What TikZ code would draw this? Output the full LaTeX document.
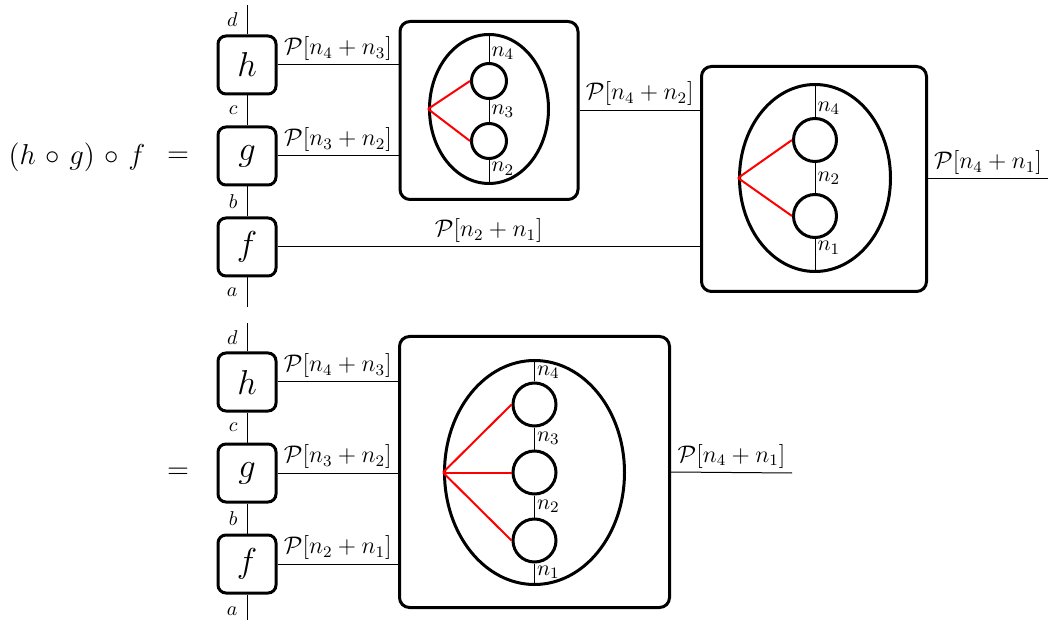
\documentclass[tikz,border=0pt]{standalone}
\usepackage{amsmath}
\usepackage{amssymb}
\usepackage{tikz}
\usetikzlibrary{shapes.geometric, positioning, calc}

\begin{document}
\begin{tikzpicture}[x=0.5pt, y=-0.5pt,
    morph/.style={rectangle, rounded corners=4pt, draw=black, line width=1.5pt, minimum size=29pt, font=\LARGE},
    outer/.style={rectangle, rounded corners=5pt, draw=black, line width=1.5pt},
    blob/.style={ellipse, draw=black, line width=1.5pt, inner sep=0pt},
    ball/.style={circle, draw=black, line width=1.5pt, inner sep=0pt},
    wire/.style={draw=black, line width=0.5pt},
    tie/.style={draw=red, line width=1pt},
    plab/.style={above, font=\large, inner sep=2pt},
    olab/.style={left, font=\normalsize, inner sep=4.5pt},
    nlab/.style={font=\fontsize{11}{13}\selectfont, inner sep=1pt}
]
\useasboundingbox (0,0) rectangle (1050,620);

% Top equation
\node[font=\Large] (lhs) at (77,157) {$\medmuskip=6mu (h\circ g)\circ f$};
\node[font=\Large] (eq1) at (178,157) {$=$};

% Top - morphisms
\node[morph] (h1) at (247,65) {$h$};
\node[morph, below=15pt of h1] (g1) {$g$};
\node[morph, below=15pt of g1] (f1) {$f$};
\coordinate (top1) at (247,5);
\coordinate (bot1) at (247,307);

% Top - first composite
\node[outer, minimum size=89pt] (box1) at (489,110.5) {};
\node[blob, minimum width=59.5pt, minimum height=74.5pt] (e1) at (489,109) {};
\node[ball, minimum size=17.5pt] (c11) at (489,81) {};
\node[ball, minimum size=17.5pt] (c12) at (489,141) {};

% Top - second composite
\node[outer, minimum size=112.5pt] (box2) at (814,179) {};
\node[blob, minimum width=75.5pt, minimum height=93.5pt] (e2) at (815,178) {};
\node[ball, minimum size=21.5pt] (c21) at (815,140) {};
\node[ball, minimum size=21.5pt] (c22) at (815,216) {};
\coordinate (out1) at (1048,179);

% Top - wires
\draw[wire] (top1) -- node[olab] {$d$} (h1.north);
\draw[wire] (h1) -- node[olab] {$c$} (g1);
\draw[wire] (g1) -- node[olab] {$b$} (f1);
\draw[wire] (f1.south) -- node[olab] {$a$} (bot1);

\draw[wire] (h1.east) -- node[plab] {$\mathcal{P}[n_4+n_3]$} (h1.east -| box1.west);
\draw[wire] (g1.east) -- node[plab] {$\mathcal{P}[n_3+n_2]$} (g1.east -| box1.west);
\draw[wire] (f1.east) -- node[plab] {$\mathcal{P}[n_2+n_1]$} (f1.east -| box2.west);
\draw[wire] (box1.east) -- node[plab] {$\mathcal{P}[n_4+n_2]$} (box1.east -| box2.west);
\draw[wire] (box2.east) -- node[plab] {$\mathcal{P}[n_4+n_1]$} (out1);

\draw[wire] (e1.north) -- (c11.north) node[nlab, above right] {$n_4$};
\draw[wire] (c11) -- node[nlab, right] {$n_3$} (c12);
\draw[wire] (c12.south) node[nlab, below right] {$n_2$} -- (e1.south);
\draw[tie] (e1.west) -- (c11.west);
\draw[tie] (e1.west) -- (c12.west);

\draw[wire] (e2.north) -- (c21.north) node[nlab, above right] {$n_4$};
\draw[wire] (c21) -- node[nlab, right] {$n_2$} (c22);
\draw[wire] (c22.south) node[nlab, below right] {$n_1$} -- (e2.south);
\draw[tie] (e2.west) -- (c21.west);
\draw[tie] (e2.west) -- (c22.west);

% Bottom equation
\node[font=\Large] (eq2) at (178,473) {$=$};

% Bottom - morphisms
\node[morph] (h2) at (247,382) {$h$};
\node[morph, below=15pt of h2] (g2) {$g$};
\node[morph, below=15pt of g2] (f2) {$f$};
\coordinate (top2) at (247,323);
\coordinate (bot2) at (247,628);

% Bottom - composite
\node[outer, minimum width=135pt, minimum height=135.5pt] (box3) at (534.5,472) {};
\node[blob, minimum width=90pt, minimum height=112pt] (e3) at (534.5,472.5) {};
\node[ball, minimum size=21.5pt] (c31) at (534.5,404.5) {};
\node[ball, minimum size=21.5pt] (c32) at (534.5,472.5) {};
\node[ball, minimum size=21.5pt] (c33) at (534.5,540.5) {};
\coordinate (out2) at (792,473);

% Bottom - wires
\draw[wire] (top2) -- node[olab] {$d$} (h2.north);
\draw[wire] (h2) -- node[olab] {$c$} (g2);
\draw[wire] (g2) -- node[olab] {$b$} (f2);
\draw[wire] (f2.south) -- node[olab] {$a$} (bot2);

\draw[wire] (h2.east) -- node[plab] {$\mathcal{P}[n_4+n_3]$} (h2.east -| box3.west);
\draw[wire] (g2.east) -- node[plab] {$\mathcal{P}[n_3+n_2]$} (g2.east -| box3.west);
\draw[wire] (f2.east) -- node[plab] {$\mathcal{P}[n_2+n_1]$} (f2.east -| box3.west);
\draw[wire] (box3.east) -- node[plab] {$\mathcal{P}[n_4+n_1]$} (out2);

\draw[wire] (e3.north) -- (c31.north) node[nlab, above right] {$n_4$};
\draw[wire] (c31) -- node[nlab, right] {$n_3$} (c32);
\draw[wire] (c32) -- node[nlab, right] {$n_2$} (c33);
\draw[wire] (c33.south) node[nlab, below right] {$n_1$} -- (e3.south);
\draw[tie] (e3.west) -- (c31.west);
\draw[tie] (e3.west) -- (c32.west);
\draw[tie] (e3.west) -- (c33.west);

\end{tikzpicture}
\end{document}
